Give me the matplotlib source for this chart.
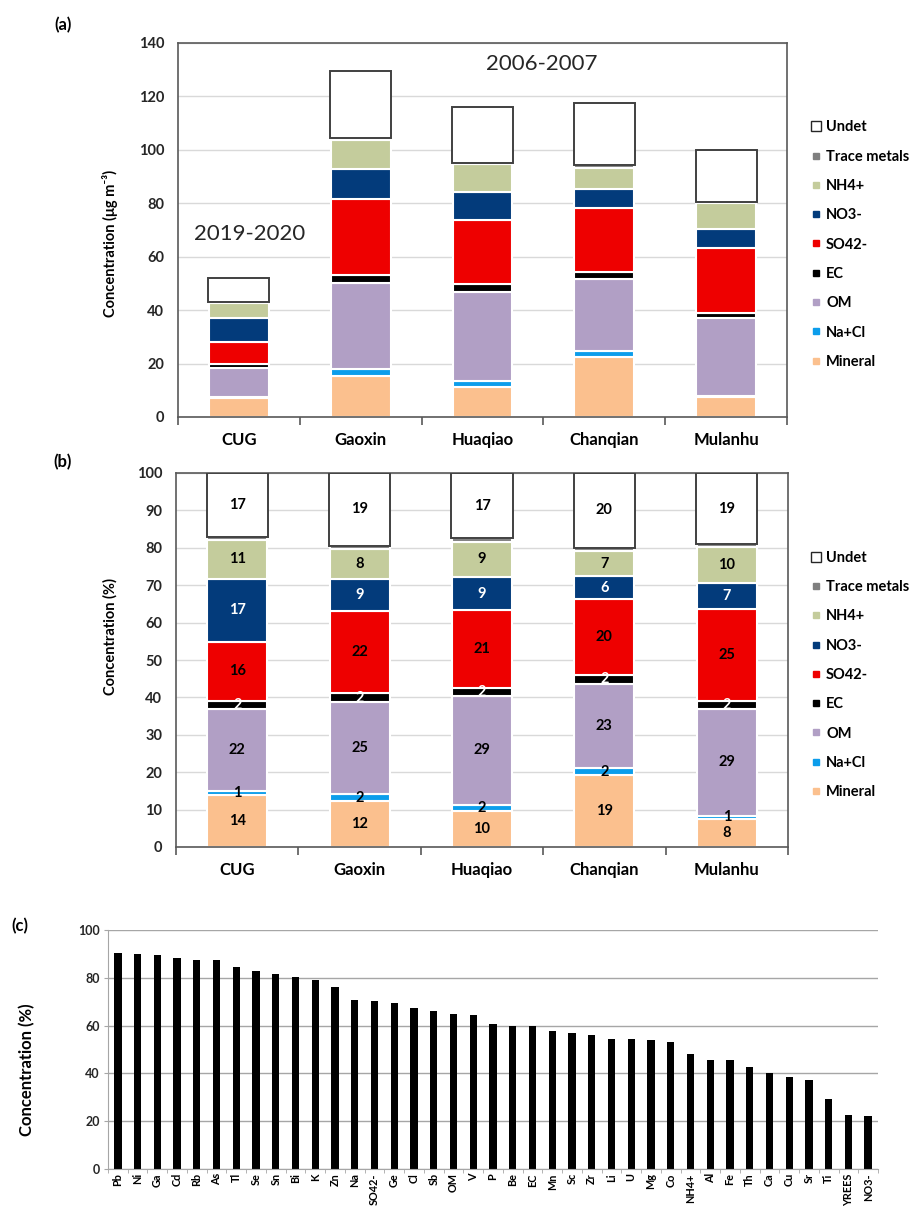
import matplotlib
matplotlib.use('Agg')
from matplotlib import pyplot as plt
from matplotlib.lines import Line2D
import numpy as np

plt.rcParams['font.family'] = ['Lato', 'DejaVu Sans']
plt.rcParams['font.weight'] = 'bold'
plt.rcParams['axes.labelweight'] = 'bold'

sites = ['CUG', 'Gaoxin', 'Huaqiao', 'Chanqian', 'Mulanhu']

# (a) mass concentrations, ug m-3
mineral_ug = [7.1, 15.3, 11.1, 22.4, 7.3]
nacl_ug = [0.5, 2.7, 2.3, 2.3, 0.7]
om_ug = [10.9, 32.0, 33.5, 26.8, 29.0]
ec_ug = [1.2, 3.1, 2.7, 2.8, 2.0]
so4_ug = [8.5, 28.6, 24.3, 24.0, 24.4]
no3_ug = [8.8, 11.1, 10.5, 6.9, 6.9]
nh4_ug = [5.8, 10.8, 10.4, 7.9, 9.7]
trace_ug = [0.2, 0.7, 0.4, 1.1, 0.6]
undet_ug = [9.0, 25.1, 20.8, 23.2, 19.5]

# (b) mass fractions, %
mineral_pct = [13.9, 12.3, 9.6, 19.2, 7.6]
nacl_pct = [1.1, 1.8, 1.7, 1.9, 0.8]
om_pct = [21.8, 24.7, 29.2, 22.6, 28.6]
ec_pct = [2.2, 2.3, 2.0, 2.4, 2.0]
so4_pct = [15.9, 21.9, 20.8, 20.2, 24.6]
no3_pct = [16.7, 8.7, 8.9, 6.1, 6.9]
nh4_pct = [10.6, 8.1, 9.4, 6.8, 9.8]
trace_pct = [0.6, 0.8, 1.0, 0.8, 0.6]
undet_pct = [17.2, 19.4, 17.4, 20.0, 19.1]

# (c) species fraction, %
species = ['Pb', 'Ni', 'Ga', 'Cd', 'Rb', 'As', 'Tl', 'Se', 'Sn', 'Bi', 'K', 'Zn',
           'Na', 'SO42-', 'Ge', 'Cl', 'Sb', 'OM', 'V', 'P', 'Be', 'EC', 'Mn', 'Sc',
           'Zr', 'Li', 'U', 'Mg', 'Co', 'NH4+', 'Al', 'Fe', 'Th', 'Ca', 'Cu', 'Sr',
           'Ti', 'YREES', 'NO3-']
species_pct = [90.5, 90.1, 89.4, 88.1, 87.4, 87.4, 84.7, 82.8, 81.5, 80.5, 79.1, 76.3,
               70.7, 70.4, 69.3, 67.4, 66.2, 64.9, 64.4, 60.8, 60.0, 60.0, 57.6, 57.0,
               55.9, 54.3, 54.3, 53.8, 53.1, 48.1, 45.6, 45.6, 42.8, 40.0, 38.6, 37.4,
               29.4, 22.5, 22.0]

names = ['Mineral', 'Na+Cl', 'OM', 'EC', 'SO42-', 'NO3-', 'NH4+', 'Trace metals', 'Undet']
colors = {'Mineral': '#FBC08E', 'Na+Cl': '#0C9DEB', 'OM': '#B19FC5', 'EC': '#000000',
          'SO42-': '#EE0000', 'NO3-': '#033B7B', 'NH4+': '#C4CC9C',
          'Trace metals': '#7F7F7F', 'Undet': '#FFFFFF'}
label_colors = {'EC': 'white', 'NO3-': 'white'}

x = np.arange(len(sites))


def stacked(ax, layers, show_values=False):
    bottom = np.zeros(len(sites))
    for name, vals in zip(names, layers):
        vals = np.array(vals, dtype=float)
        if name == 'Undet':
            ax.bar(x, vals, 0.5, bottom=bottom, color='white', edgecolor='#404040',
                   linewidth=1.4, zorder=3)
        else:
            ax.bar(x, vals, 0.49, bottom=bottom, color=colors[name], edgecolor='white',
                   linewidth=1.5, zorder=2)
        if show_values and name != 'Trace metals':
            for xi, b, v in zip(x, bottom, vals):
                ax.text(xi, b + v / 2, f'{v:.0f}', ha='center', va='center', fontsize=10.5,
                        color=label_colors.get(name, 'black'), zorder=4)
        bottom += vals


def style_box(ax, ymax, ystep):
    ax.set_xlim(-0.5, 4.5)
    ax.set_ylim(0, ymax)
    ax.set_yticks(np.arange(0, ymax + 1, ystep))
    ax.set_xticks(x)
    ax.set_xticklabels(sites, fontsize=12)
    ax.set_xticks(np.arange(-0.5, 5, 1), minor=True)
    ax.tick_params(axis='x', which='major', length=0, pad=11)
    ax.tick_params(axis='x', which='minor', length=6, color='#595959', width=1.2)
    ax.tick_params(axis='y', length=0, pad=10, labelsize=10.5, labelcolor='#262626')
    ax.grid(axis='y', color='#D9D9D9', linewidth=1)
    ax.set_axisbelow(True)
    for s in ax.spines.values():
        s.set_color('#595959')
        s.set_linewidth(1.2)


def legend_right(ax, xpos, ypos):
    handles = []
    for name in names[::-1]:
        if name == 'Undet':
            handles.append(Line2D([], [], linestyle='none', marker='s', markersize=7.5,
                                  markerfacecolor='white', markeredgecolor='#262626',
                                  markeredgewidth=1))
        else:
            handles.append(Line2D([], [], linestyle='none', marker='s', markersize=4.5,
                                  markerfacecolor=colors[name], markeredgecolor=colors[name]))
    ax.legend(handles, names[::-1], loc='center left', bbox_to_anchor=(xpos, ypos),
              frameon=False, fontsize=10.5, handlelength=0.8, handletextpad=0.3,
              labelspacing=1.05, borderpad=0, borderaxespad=0)


fig = plt.figure(figsize=(9.17, 12.08), dpi=100)

# (a)
ax1 = fig.add_axes([178 / 917, 1 - 417 / 1208, 609 / 917, 374 / 1208])
stacked(ax1, [mineral_ug, nacl_ug, om_ug, ec_ug, so4_ug, no3_ug, nh4_ug, trace_ug, undet_ug])
style_box(ax1, 140, 20)
ax1.set_ylabel('Concentration (μg m⁻³)', fontsize=10.5)
ax1.yaxis.set_label_coords(-0.098, 0.465)
ax1.text(0.09, 68.4, '2019-2020', ha='center', va='center', fontsize=16,
         fontweight='normal', color='#262626')
ax1.text(2.49, 132.3, '2006-2007', ha='center', va='center', fontsize=16,
         fontweight='normal', color='#262626')
legend_right(ax1, 1.038, 0.461)

# (b)
ax2 = fig.add_axes([176 / 917, 1 - 847 / 1208, 612 / 917, 374 / 1208])
stacked(ax2, [mineral_pct, nacl_pct, om_pct, ec_pct, so4_pct, no3_pct, nh4_pct,
              trace_pct, undet_pct], show_values=True)
style_box(ax2, 100, 10)
ax2.set_ylabel('Concentration (%)', fontsize=10.5)
ax2.yaxis.set_label_coords(-0.096, 0.562)
legend_right(ax2, 1.036, 0.46)

# (c)
ax3 = fig.add_axes([108 / 917, 1 - 1169 / 1208, 770 / 917, 239 / 1208])
xc = np.arange(len(species))
ax3.bar(xc, species_pct, 0.37, color='black', zorder=2)
ax3.set_xlim(-0.5, len(species) - 0.5)
ax3.set_ylim(0, 100)
ax3.set_yticks(np.arange(0, 101, 20))
ax3.set_xticks(xc)
ax3.set_xticklabels(species, rotation=90, fontsize=7.8)
ax3.set_xticks(np.arange(-0.5, len(species), 1), minor=True)
ax3.tick_params(axis='x', which='major', length=0, pad=3)
ax3.tick_params(axis='x', which='minor', length=3, color='#A6A6A6')
ax3.tick_params(axis='y', length=3, color='#A6A6A6', pad=3, labelsize=9,
                labelcolor='#262626')
ax3.grid(axis='y', color='#A6A6A6', linewidth=1)
ax3.set_axisbelow(True)
ax3.spines['top'].set_visible(False)
ax3.spines['right'].set_visible(False)
ax3.spines['left'].set_color('#A6A6A6')
ax3.spines['bottom'].set_color('#A6A6A6')
ax3.set_ylabel('Concentration (%)', fontsize=12)
ax3.yaxis.set_label_coords(-0.095, 0.414)

fig.text(63 / 917, 1 - 25 / 1208, '(a)', ha='center', va='center', fontsize=12)
fig.text(63 / 917, 1 - 462 / 1208, '(b)', ha='center', va='center', fontsize=12)
fig.text(20 / 917, 1 - 926 / 1208, '(c)', ha='center', va='center', fontsize=12)

fig.savefig('out.png', dpi=100)
